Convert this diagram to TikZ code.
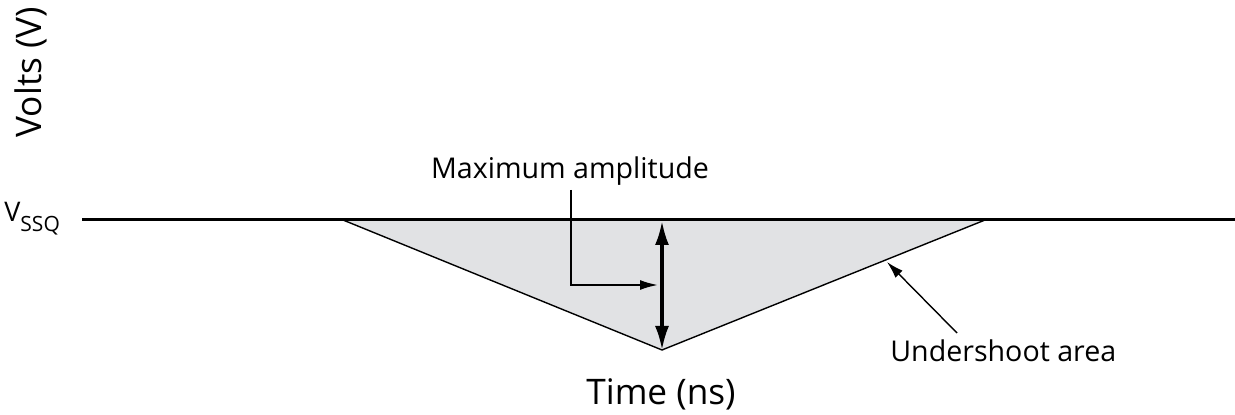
\documentclass[tikz,border=0pt]{standalone}
\usepackage{fontspec}
\setmainfont{Open Sans}
\usetikzlibrary{arrows.meta, positioning}
\definecolor{areagray}{RGB}{225,226,228}

\tikzset{
  lbl/.style={font=\fontsize{14.3}{16}\selectfont, inner sep=0pt},
  axislbl/.style={font=\fontsize{17.6}{20}\selectfont, inner sep=0pt},
  railline/.style={line width=1.5pt},
  edgeline/.style={line width=0.7pt},
  pointer/.style={line width=1pt, -{Latex[length=9pt,width=5pt]}},
  thinpointer/.style={line width=0.7pt, -{Latex[length=8.5pt,width=5pt]}},
  amplitude/.style={line width=1.6pt, {Latex[length=12pt,width=7pt]}-{Latex[length=12pt,width=7pt]}},
}
\newcommand{\vssqtext}{{\fontsize{13.5}{15}\selectfont V}\raisebox{-5pt}{\fontsize{10.5}{12}\selectfont SSQ}}

\begin{document}
\begin{tikzpicture}[x=0.5pt, y=-0.5pt]
    \useasboundingbox (0,0) rectangle (1235,415);

    % axis labels
    \node[axislbl, rotate=90] (volts) at (31,72) {Volts (V)};
    \node[axislbl] (time) at (661,394) {Time (ns)};

    % VSSQ rail
    \node[inner sep=0pt, anchor=base west] (vssq) at (4,222) {\vssqtext};
    \coordinate (railL) at (82,220);
    \coordinate (railR) at (1235,220);

    % undershoot triangle
    \coordinate (triL) at (343,220);
    \coordinate (triR) at (985,220);
    \coordinate (triB) at (662,350);
    \fill[areagray] (triL) -- (triB) -- (triR) -- cycle;
    \draw[edgeline] (triL) -- (triB) -- (triR);
    \draw[railline] (railL) -- (railR);

    % maximum amplitude
    \coordinate (triT) at (662,221);
    \draw[amplitude] (triT) -- (triB);
    \node[lbl, anchor=base] (maxamp) at (570,179) {Maximum amplitude};
    \coordinate (ampstart) at (571,190);
    \coordinate (ampcorner) at (571,285);
    \coordinate (ampend) at (658,285);
    \draw[pointer] (ampstart) -- (ampcorner) -- (ampend);

    % undershoot area
    \node[lbl, anchor=base west] (under) at (890,362) {Undershoot area};
    \coordinate (understart) at (957,333);
    \coordinate (undertip) at (887,262);
    \draw[thinpointer] (understart) -- (undertip);
\end{tikzpicture}
\end{document}
